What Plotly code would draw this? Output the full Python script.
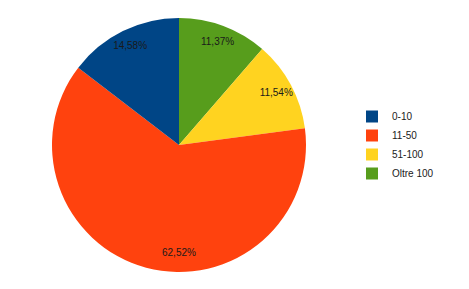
import plotly.graph_objects as go

labels = ["0-10", "11-50", "51-100", "Oltre 100"]
values = [14.58, 62.52, 11.54, 11.37]
colors = ["#004586", "#ff420e", "#ffd320", "#579d1c"]

# slices run clockwise from 12 o'clock starting with the last category
lab_r, val_r, col_r = labels[::-1], values[::-1], colors[::-1]

dom = dict(x=[52/469, 306/469], y=[1-273/289, 1-17/289])
font = dict(family="Liberation Sans, Arial, sans-serif", size=10, color="#1a1a1a")

fig = go.Figure()
fig.add_trace(go.Pie(
    labels=lab_r, values=val_r, sort=False,
    direction="clockwise", rotation=0,
    marker=dict(colors=col_r, line=dict(width=0)),
    textinfo="none", domain=dom, hoverinfo="label+value",
))
# transparent ring overlay that carries the labels near the rim
fig.add_trace(go.Pie(
    labels=lab_r, values=val_r, sort=False,
    direction="clockwise", rotation=0, hole=0.74,
    marker=dict(colors=["rgba(0,0,0,0)"] * 4, line=dict(width=0)),
    texttemplate="%{value:.2f}%", textposition="inside",
    insidetextorientation="horizontal", textfont=font,
    domain=dom, showlegend=False, hoverinfo="skip",
))

fig.update_layout(
    width=469, height=289,
    margin=dict(l=0, r=0, t=0, b=0),
    paper_bgcolor="white", plot_bgcolor="white",
    separators=",.",
    font=font,
    legend=dict(x=352/469, y=1-145/289, xanchor="left", yanchor="middle",
                font=dict(size=10), itemwidth=30, tracegroupgap=0,
                traceorder="reversed"),
    uniformtext=dict(minsize=10, mode="show"),
)

fig.write_html("out.html")
